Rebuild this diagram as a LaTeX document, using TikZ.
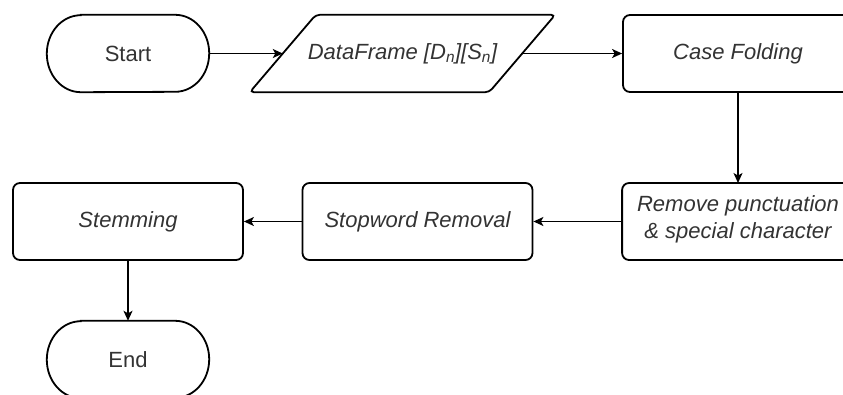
\documentclass[tikz,border=0pt]{standalone}
\usepackage{fontspec}
\setmainfont{Liberation Sans}
\usetikzlibrary{arrows.meta}
\definecolor{ink}{HTML}{333333}
\begin{document}
\begin{tikzpicture}[x=1pt,y=-1pt,
  every node/.style={font=\fontsize{22}{28}\selectfont, text=ink, inner sep=0pt},
  outline/.style={draw=black, line width=1.8pt, rounded corners=7pt},
  procbox/.style={outline, rectangle, minimum width=230pt, minimum height=77pt, align=center, font=\fontsize{22}{28}\selectfont\itshape},
  iobox/.style={rectangle, minimum width=305pt, minimum height=77pt, font=\fontsize{22}{28}\selectfont\itshape},
  termbox/.style={minimum width=162pt, minimum height=77pt},
  flow/.style={draw=black, line width=1.3pt, -{Stealth[length=10pt,width=9pt,inset=2.5pt]}}
]
\path[use as bounding box, clip] (0,0) rectangle (843,394);

% terminals: labels in plain rectangles, outlines drawn with elliptic ends
\node[termbox] (start) at (128,53.5) {Start};
\node[termbox] (end)   at (128,359.5) {End};
\foreach \t in {start,end}{
  \draw[line width=1.8pt]
    ([xshift=34pt]\t.north west) -- ([xshift=-34pt]\t.north east)
    arc[start angle=90, end angle=-90, x radius=34pt, y radius=38.5pt]
    -- ([xshift=34pt]\t.south west)
    arc[start angle=270, end angle=90, x radius=34pt, y radius=38.5pt] -- cycle;
}

% input/output: slanted outline around the label, with its side midpoints
\node[iobox] (data) at (402.5,53.5) {DataFrame [D\textsubscript{n}][S\textsubscript{n}]};
\draw[line width=1.8pt, rounded corners=4pt]
  ([xshift=66pt]data.north west) -- (data.north east)
  -- ([xshift=-66pt]data.south east) -- (data.south west) -- cycle;
\coordinate (dataW) at ([xshift=33pt]data.west);
\coordinate (dataE) at ([xshift=-33pt]data.east);

% processing steps
\node[procbox] (fold)   at (738,53.5)   {Case Folding};
\node[procbox, draw=none] (remove) at (738,219.5) {Remove punctuation\\[-1pt]\& special character};
\draw[outline] (remove.north west |- 0,183) rectangle (remove.south east |- 0,260);
\node[procbox] (stop)   at (417.5,221.5) {Stopword Removal};
\node[procbox] (stem)   at (128,221.5)  {Stemming};

% connectors
\draw[flow] (start) -- (dataW);
\draw[flow] (dataE) -- (fold);
\draw[flow] (fold) -- (remove.north |- 0,183);
\draw[flow] (remove.west |- 0,221.5) -- (stop);
\draw[flow] (stop) -- (stem);
\draw[flow] (stem) -- (end);
\end{tikzpicture}
\end{document}
